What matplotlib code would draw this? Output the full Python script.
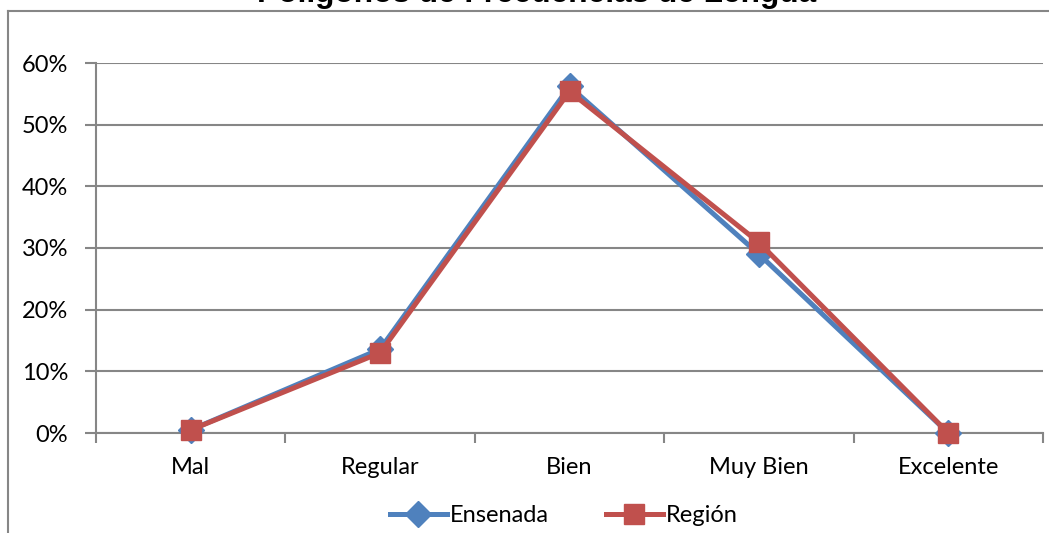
import numpy as np
import matplotlib
matplotlib.use('Agg')
import matplotlib.pyplot as plt
from matplotlib.lines import Line2D
from matplotlib.ticker import FixedLocator, FuncFormatter

categories = ['Mal', 'Regular', 'Bien', 'Muy Bien', 'Excelente']
ensenada = [0.5, 13.6, 56.2, 29.0, 0.0]
region = [0.5, 13.0, 55.4, 30.9, 0.0]
y_ticks = [0, 10, 20, 30, 40, 50, 60]

blue = '#4F81BD'
red = '#C0504D'
grid_c = '#868686'
fs = 17
lw = 3.6

plt.rcParams['font.family'] = ['Lato', 'DejaVu Sans']

fig = plt.figure(figsize=(10.49, 5.33), dpi=100)
ax = fig.add_axes([96/1049, 1-433/533, (1043-96)/1049, (433-63)/533])

x = np.arange(len(categories))
ax.plot(x, ensenada, color=blue, lw=lw, marker='D', ms=13, mec=blue, mfc=blue,
        zorder=3, label='Ensenada', clip_on=False)
ax.plot(x, region, color=red, lw=lw, marker='s', ms=14, mec=red, mfc=red,
        zorder=4, label='Región', clip_on=False)

ax.set_xlim(-0.5, len(categories) - 0.5)
ax.set_ylim(0, 60)
ax.set_yticks(y_ticks)
ax.yaxis.set_major_formatter(FuncFormatter(lambda v, p: f'{int(v)}%'))
ax.grid(axis='y', color=grid_c, lw=1.5)
ax.set_axisbelow(True)

ax.set_xticks(x)
ax.set_xticklabels(categories)
ax.xaxis.set_minor_locator(FixedLocator(np.arange(-0.5, len(categories), 1.0)))
ax.tick_params(axis='x', which='major', length=0, pad=17, labelsize=fs)
ax.tick_params(axis='x', which='minor', length=7, width=1.5, color=grid_c, direction='out')
ax.tick_params(axis='y', length=8, width=1.5, color=grid_c, pad=12, labelsize=fs)

for s in ['top', 'right']:
    ax.spines[s].set_visible(False)
for s in ['left', 'bottom']:
    ax.spines[s].set_color(grid_c)
    ax.spines[s].set_linewidth(1.5)

handles = [
    Line2D([], [], color=blue, lw=lw, marker='D', ms=13, mec=blue, mfc=blue),
    Line2D([], [], color=red, lw=lw, marker='s', ms=14, mec=red, mfc=red),
]
fig.legend(handles, ['Ensenada', 'Región'], loc='center', bbox_to_anchor=(564/1049, 1-516/533),
           ncol=2, frameon=False, fontsize=fs, handlelength=2.4, handletextpad=0.15,
           columnspacing=2.4, borderpad=0, borderaxespad=0)

# outer chart frame (partially cropped)
fig.add_artist(Line2D([8/1049, 1.0], [1-10.5/533, 1-10.5/533], transform=fig.transFigure,
                      color=grid_c, lw=1.5))
fig.add_artist(Line2D([8/1049, 8/1049], [0, 1-10.5/533], transform=fig.transFigure,
                      color=grid_c, lw=1.5))

fig.text(537/1049, 1-2/533, 'Polígonos de Frecuencias de Lengua', ha='center', va='baseline',
         fontsize=22.8, weight='bold', family='Liberation Sans')

fig.savefig('out.png', dpi=100)
